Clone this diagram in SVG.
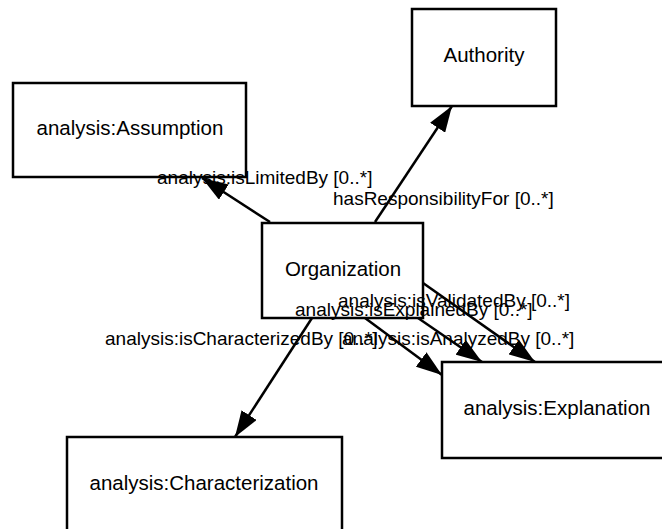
<svg xmlns="http://www.w3.org/2000/svg" width="662" height="529" viewBox="0 0 662 529">
<style>
.box{fill:#fff;stroke:#000;stroke-width:2.5}
.nl{font-family:"Liberation Sans",Arial,sans-serif;font-size:20.5px;fill:#000;text-anchor:middle}
.el{font-family:"Liberation Sans",Arial,sans-serif;font-size:19px;fill:#000}
.edge{stroke:#000;stroke-width:2.5;fill:none;marker-end:url(#arr)}
</style>
<defs>
<marker id="arr" markerUnits="userSpaceOnUse" markerWidth="28" markerHeight="18" refX="26" refY="9" orient="auto">
<path d="M0,0 L26,9 L0,18 z" fill="#000"/>
</marker>
</defs>
<rect width="662" height="529" fill="#fff"/>
<g id="connectors">
<line class="edge" x1="270" y1="222" x2="202" y2="178"/>
<line class="edge" x1="375" y1="222" x2="452" y2="106"/>
<line class="edge" x1="312" y1="318" x2="235" y2="437"/>
<line class="edge" x1="423" y1="283" x2="535" y2="362"/>
<line class="edge" x1="418" y1="318" x2="482" y2="362"/>
<line class="edge" x1="365" y1="318" x2="442" y2="375"/>
</g>
<g id="Authority"><rect class="box" x="412" y="9" width="144" height="97"/><text class="nl" x="484" y="62">Authority</text></g>
<g id="Assumption"><rect class="box" x="13" y="83" width="233" height="94"/><text class="nl" x="130" y="135">analysis:Assumption</text></g>
<g id="Organization"><rect class="box" x="262" y="223" width="161" height="95"/><text class="nl" x="343" y="276">Organization</text></g>
<g id="Explanation"><rect class="box" x="442" y="362" width="232" height="96"/><text class="nl" x="557" y="415">analysis:Explanation</text></g>
<g id="Characterization"><rect class="box" x="67" y="437" width="275" height="98"/><text class="nl" x="204" y="490">analysis:Characterization</text></g>
<g id="labels">
<text class="el" x="157" y="184">analysis:isLimitedBy [0..*]</text>
<text class="el" x="333" y="205">hasResponsibilityFor [0..*]</text>
<text class="el" x="338" y="307">analysis:isValidatedBy [0..*]</text>
<text class="el" x="295" y="316">analysis:isExplainedBy [0..*]</text>
<text class="el" x="105" y="345">analysis:isCharacterizedBy [0..*]</text>
<text class="el" x="342" y="345">analysis:isAnalyzedBy [0..*]</text>
</g>
</svg>
